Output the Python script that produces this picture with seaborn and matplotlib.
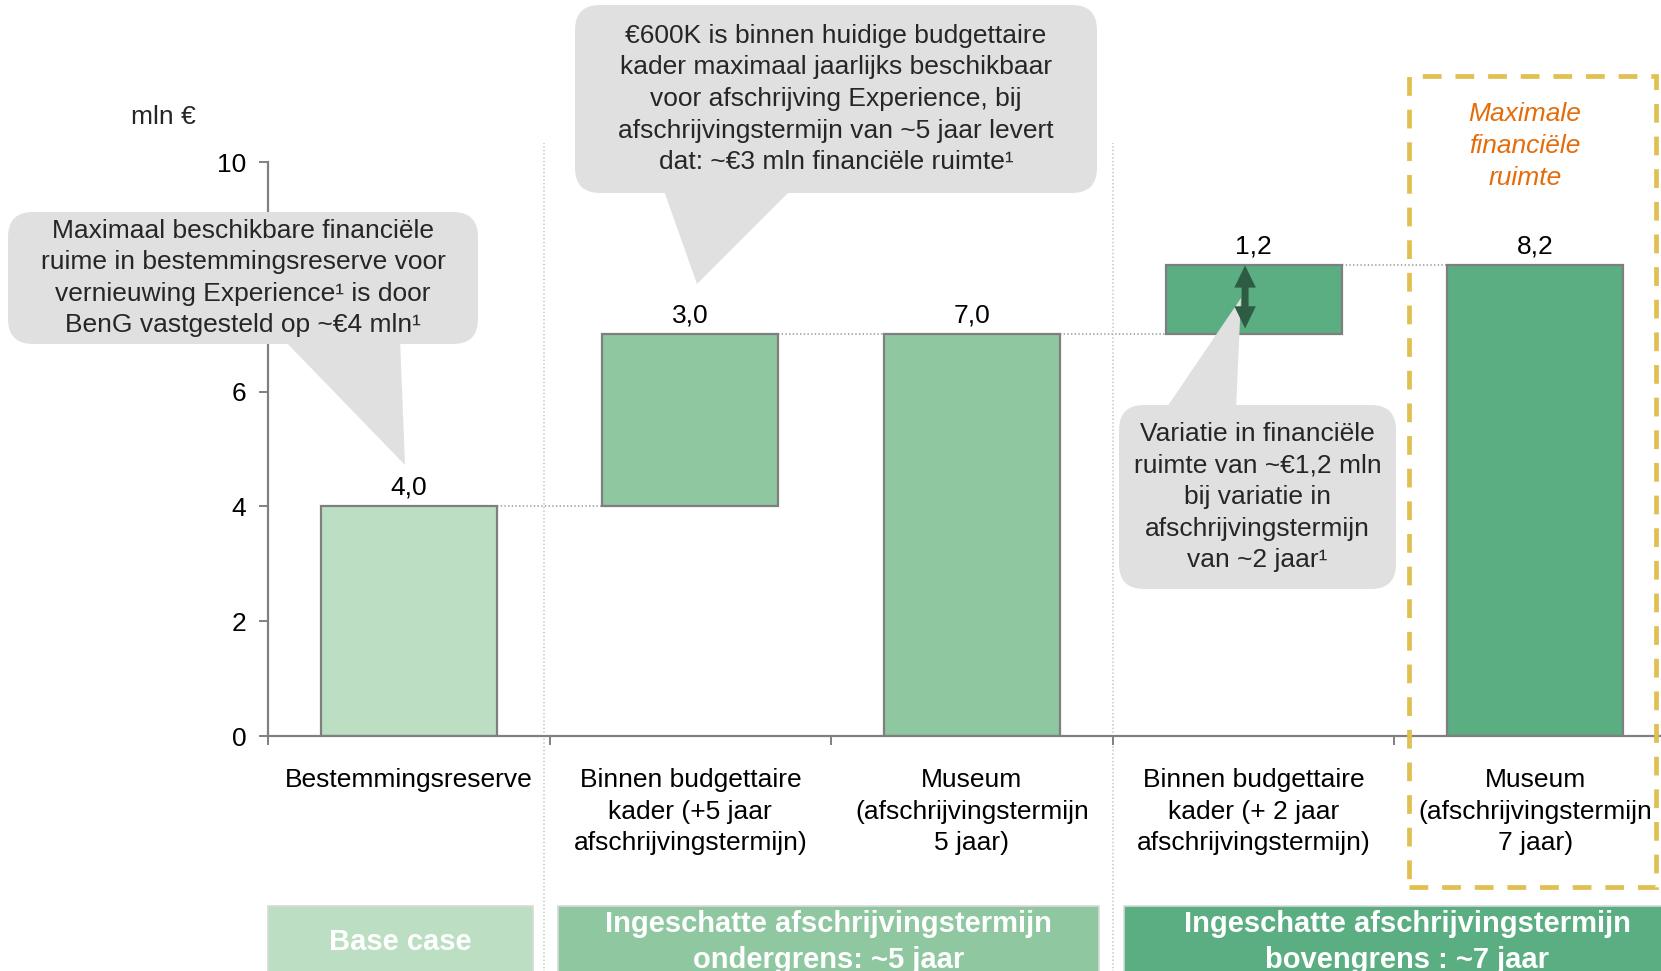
import matplotlib
matplotlib.use("Agg")
import matplotlib.pyplot as plt
import seaborn as sns
import pandas as pd
from matplotlib.patches import FancyBboxPatch, Polygon, Rectangle, FancyArrowPatch
from matplotlib.transforms import blended_transform_factory

# data
categories = [
    "Bestemmingsreserve",
    "Binnen budgettaire\nkader (+5 jaar\nafschrijvingstermijn)",
    "Museum\n(afschrijvingstermijn\n5 jaar)",
    "Binnen budgettaire\nkader (+ 2 jaar\nafschrijvingstermijn)",
    "Museum\n(afschrijvingstermijn\n7 jaar)",
]
heights = [4.0, 3.0, 7.0, 1.2, 8.2]
bottoms = [0.0, 4.0, 0.0, 7.0, 0.0]
value_labels = ["4,0", "3,0", "7,0", "1,2", "8,2"]
bar_colors = ["#bcdfc4", "#8fc7a0", "#8fc7a0", "#5bae82", "#5bae82"]
y_ticks = [0, 2, 4, 6, 8, 10]
y_ticklabels = ["0", "2", "4", "6", "", "10"]  # 8 sits behind the callout

groups = ["Base case",
          "Ingeschatte afschrijvingstermijn\nondergrens: ~5 jaar",
          "Ingeschatte afschrijvingstermijn\nbovengrens : ~7 jaar"]
group_colors = ["#bcdfc4", "#8fc7a0", "#5bae82"]
group_spans = [(-0.5, 0.44), (0.53, 2.45), (2.54, 4.55)]

note_base = ("Maximaal beschikbare financiële\nruime in bestemmingsreserve voor\n"
             "vernieuwing Experience¹ is door\nBenG vastgesteld op ~€4 mln¹")
note_budget = ("€600K is binnen huidige budgettaire\nkader maximaal jaarlijks beschikbaar\n"
               "voor afschrijving Experience, bij\nafschrijvingstermijn van ~5 jaar levert\n"
               "dat: ~€3 mln financiële ruimte¹")
note_variatie = ("Variatie in financiële\nruimte van ~€1,2 mln\nbij variatie in\n"
                 "afschrijvingstermijn\nvan ~2 jaar¹")

sns.set_theme(style="white")
plt.rcParams["font.family"] = ["Liberation Sans", "DejaVu Sans"]
plt.rcParams["lines.scale_dashes"] = False

W, H = 1661, 971
LS = 1.4
fig = plt.figure(figsize=(W / 100, H / 100), dpi=100)
ax = fig.add_axes([0.1613, 0.2420, 0.8477, 0.5911])

df = pd.DataFrame({"stap": categories, "waarde": heights})
sns.barplot(data=df, x="stap", y="waarde", bottom=bottoms, width=0.625,
            color=bar_colors[0], saturation=1, edgecolor="#7f7f7f",
            linewidth=1.6, errorbar=None, ax=ax)
for patch, c in zip(ax.patches, bar_colors):
    patch.set_facecolor(c)

bw = 0.625
for i, (b, h, lab) in enumerate(zip(bottoms, heights, value_labels)):
    ax.annotate(lab, (i, b + h), xytext=(0, 5), textcoords="offset points",
                ha="center", va="bottom", fontsize=19, color="black")
    if i < len(heights) - 1:
        ax.plot([i + bw / 2, i + 1 - bw / 2], [b + h, b + h], ls=":",
                color="#a6a6a6", lw=1.3, zorder=0)

# group separators
for sx in [0.48, 2.5]:
    ax.plot([sx, sx], [-4.3, 10.33], ls=":", color="#c8c8c8", lw=1.2,
            clip_on=False, zorder=0)

ax.set_xlim(-0.5, 4.5)
ax.set_ylim(0, 10)
ax.set_yticks(y_ticks)
ax.set_yticklabels(y_ticklabels)
ax.set_xlabel("")
ax.set_ylabel("")
sns.despine(ax=ax)
for side in ["left", "bottom"]:
    ax.spines[side].set_color("#808080")
    ax.spines[side].set_linewidth(1.6)
ax.set_xticks([-0.5, 0.5, 1.5, 2.5, 3.5], minor=True)
ax.tick_params(axis="x", which="major", length=0, pad=23, labelsize=19)
ax.tick_params(axis="x", which="minor", length=6.5, width=1.4, color="#808080",
               direction="out", bottom=True)
ax.tick_params(axis="y", length=6.5, width=1.4, color="#808080", pad=9,
               labelsize=19, left=True)
for t in ax.get_xticklabels():
    t.set_linespacing(LS)
    t.set_color("black")
for t in ax.get_yticklabels():
    t.set_color("black")

fig.text(163 / W, 1 - 117 / H, "mln €", ha="center", va="center", fontsize=19)

# double arrow inside the variation bar: two filled arrows from the middle
var_top = bottoms[3] + heights[3]
var_low = bottoms[3] + 0.1
var_mid = (var_top + var_low) / 2
for end in [var_top, var_low]:
    fig.add_artist(FancyArrowPatch((2.97, var_mid), (2.97, end), transform=ax.transData,
                                   arrowstyle="simple,head_length=1.6,head_width=1.55,tail_width=0.5",
                                   mutation_scale=10, lw=0, color="#2d5c43",
                                   shrinkA=0, shrinkB=0, zorder=7))

GREY = "#e0e0e0"


def inch(x, y):
    return (x / 100, (H - y) / 100)


def callout(box, base_l, base_r, tip, text):
    x0, y0, x1, y1 = box
    fig.add_artist(FancyBboxPatch(inch(x0, y1), (x1 - x0) / 100, (y1 - y0) / 100,
                                  boxstyle="round,pad=0,rounding_size=0.25",
                                  transform=fig.dpi_scale_trans, fc=GREY,
                                  ec="none", zorder=5))
    fig.add_artist(Polygon([inch(*base_l), inch(*base_r), inch(*tip)], closed=True,
                           transform=fig.dpi_scale_trans, fc=GREY, ec="none",
                           zorder=5))
    cx, cy = inch((x0 + x1) / 2, (y0 + y1) / 2)
    fig.text(cx, cy, text, transform=fig.dpi_scale_trans, ha="center",
             va="center", fontsize=19, linespacing=LS, zorder=6)


callout((8, 212, 478, 344), (282, 338), (400, 338), (405, 465), note_base)
callout((575, 5, 1097, 193), (663, 188), (793, 188), (697, 284), note_budget)
callout((1119, 405, 1396, 589), (1165, 410), (1236, 410), (1241, 298), note_variatie)

# maximum-space dashed frame
fig.add_artist(Rectangle(inch(1409, 887), (1656 - 1409) / 100, (887 - 76) / 100,
                         transform=fig.dpi_scale_trans, fill=False,
                         ec="#e0c050", lw=3.4, ls=(0, (13.5, 10)), zorder=6))
fig.text(1525 / W, 1 - 146 / H, "Maximale\nfinanciële\nruimte", ha="center",
         va="center", fontsize=19, style="italic", color="#e46c0a",
         linespacing=LS)

# group boxes at the bottom
tr = blended_transform_factory(ax.transData, fig.transFigure)
for name, col, (x0, x1) in zip(groups, group_colors, group_spans):
    fig.add_artist(Rectangle((x0, -0.05), x1 - x0, 0.05 + 0.067, transform=tr,
                             fc=col, ec="#d9d9d9", lw=1.2, clip_on=False, zorder=4))
    fig.text((x0 + x1) / 2, 1 - 942 / H, name, transform=tr, ha="center",
             va="center", fontsize=21, fontweight="bold", color="white",
             linespacing=1.4, zorder=5)

fig.savefig("out.png", dpi=100)
